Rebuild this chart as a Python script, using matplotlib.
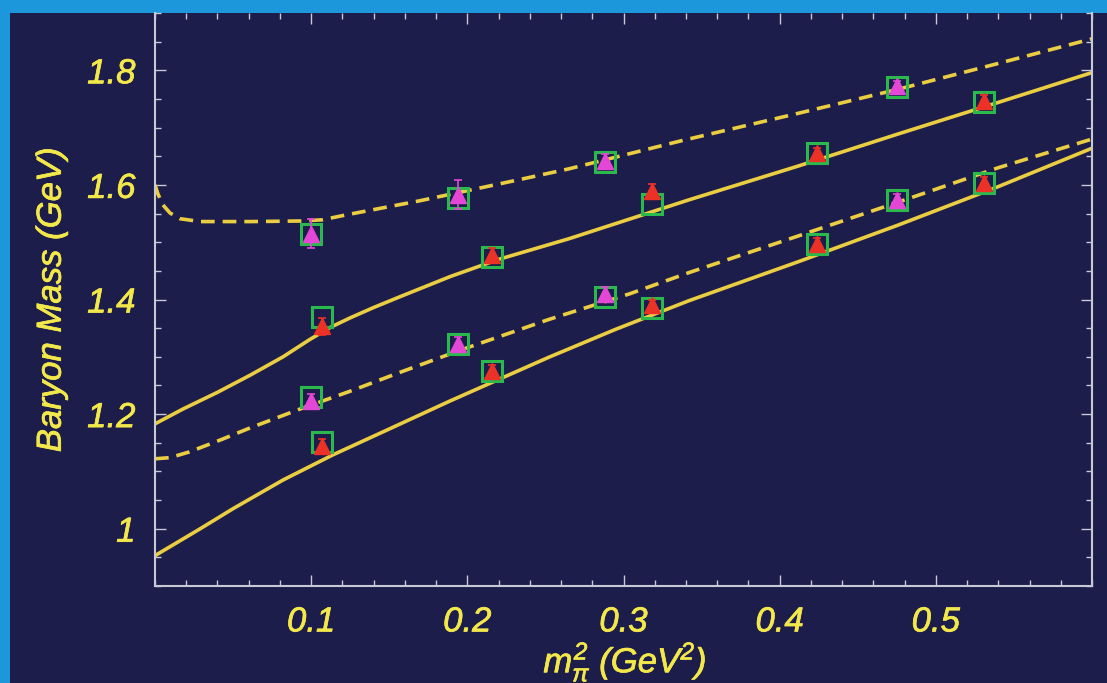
import matplotlib

matplotlib.use("Agg")
import matplotlib.pyplot as plt
import matplotlib.patheffects as pe
from matplotlib.patches import Rectangle
from matplotlib.ticker import MultipleLocator

# fitted curves (m_pi^2 in GeV^2, mass in GeV)
upper_dashed_x = [0.0, 0.0019, 0.0051, 0.0096, 0.016, 0.029, 0.061, 0.093, 0.107,
                  0.123, 0.169, 0.233, 0.265, 0.337, 0.412, 0.476, 0.540, 0.600]
upper_dashed_y = [1.600, 1.584, 1.565, 1.551, 1.541, 1.536, 1.536, 1.537, 1.539,
                  1.548, 1.572, 1.609, 1.628, 1.677, 1.725, 1.767, 1.812, 1.855]

upper_solid_x = [0.0, 0.018, 0.040, 0.061, 0.082, 0.099, 0.112, 0.125, 0.140,
                 0.157, 0.189, 0.220, 0.265, 0.342, 0.412, 0.476, 0.540, 0.600]
upper_solid_y = [1.183, 1.209, 1.238, 1.268, 1.300, 1.330, 1.351, 1.368, 1.386,
                 1.405, 1.440, 1.470, 1.506, 1.574, 1.633, 1.689, 1.744, 1.796]

lower_dashed_x = [0.0, 0.0096, 0.022, 0.042, 0.061, 0.093, 0.125, 0.157, 0.197,
                  0.252, 0.304, 0.342, 0.412, 0.476, 0.540, 0.600]
lower_dashed_y = [1.122, 1.124, 1.134, 1.155, 1.176, 1.209, 1.240, 1.273, 1.313,
                  1.365, 1.410, 1.447, 1.511, 1.570, 1.630, 1.680]

lower_solid_x = [0.0, 0.029, 0.050, 0.082, 0.114, 0.146, 0.189, 0.252, 0.295,
                 0.342, 0.412, 0.476, 0.540, 0.600]
lower_solid_y = [0.953, 1.000, 1.035, 1.085, 1.129, 1.169, 1.223, 1.299, 1.348,
                 1.398, 1.466, 1.530, 1.597, 1.664]

# lattice points, light set (magenta) and heavy set (red)
light_x = [0.100, 0.194, 0.288, 0.475]
light_upper_y = [1.515, 1.583, 1.642, 1.772]
light_upper_err = [0.025, 0.025, 0.012, 0.010]
light_lower_y = [1.223, 1.322, 1.410, 1.574]
light_lower_err = [0.012, 0.012, 0.012, 0.010]

heavy_x = [0.107, 0.216, 0.318, 0.424, 0.531]
heavy_upper_y = [1.353, 1.478, 1.590, 1.655, 1.747]
heavy_upper_err = [0.015, 0.012, 0.012, 0.010, 0.010]
heavy_lower_y = [1.144, 1.275, 1.390, 1.497, 1.603]
heavy_lower_err = [0.012, 0.010, 0.010, 0.010, 0.010]

# second analysis (open squares)
light_sq_upper_y = [1.515, 1.577, 1.640, 1.770]
light_sq_lower_y = [1.230, 1.322, 1.405, 1.574]
heavy_sq_upper_y = [1.370, 1.475, 1.567, 1.656, 1.744]
heavy_sq_lower_y = [1.151, 1.275, 1.386, 1.496, 1.603]

x_ticks = [0.1, 0.2, 0.3, 0.4, 0.5]
x_tick_labels = ["0.1", "0.2", "0.3", "0.4", "0.5"]
y_ticks = [1.0, 1.2, 1.4, 1.6, 1.8]
y_tick_labels = ["1", "1.2", "1.4", "1.6", "1.8"]

BLUE = "#1c97dc"
NAVY = "#1c1d4b"
CURVE = "#ebcd42"
TEXT = "#f3e84a"
FRAME = "#c9c9d6"
GREEN = "#2bb84c"
RED = "#ec3226"
MAGENTA = "#e447d6"

plt.rcParams["mathtext.fontset"] = "custom"
plt.rcParams["mathtext.rm"] = "Liberation Sans:italic"
plt.rcParams["mathtext.it"] = "Liberation Sans:italic"

# slightly heavier strokes for the yellow lettering
bold_text = [pe.withStroke(linewidth=0.5, foreground=TEXT)]

fig = plt.figure(figsize=(11.07, 6.83), dpi=100, facecolor=BLUE)
panel = Rectangle((10 / 1107, 0), 1, 1 - 13 / 683, transform=fig.transFigure,
                  facecolor=NAVY, edgecolor="none", zorder=-10)
fig.patches.append(panel)

ax = fig.add_axes([155 / 1107, 1 - 586 / 683, (1092 - 155) / 1107, (586 - 13) / 683])
ax.set_zorder(1)
ax.set_facecolor(NAVY)

ax.plot(upper_dashed_x, upper_dashed_y, color=CURVE, lw=2.6, dashes=(3.8, 2.2), zorder=2)
ax.plot(lower_dashed_x, lower_dashed_y, color=CURVE, lw=2.6, dashes=(3.8, 2.2), zorder=2)
ax.plot(upper_solid_x, upper_solid_y, color=CURVE, lw=2.6, zorder=2)
ax.plot(lower_solid_x, lower_solid_y, color=CURVE, lw=2.6, zorder=2)

for xs, ys in [(light_x, light_sq_upper_y), (light_x, light_sq_lower_y),
               (heavy_x, heavy_sq_upper_y), (heavy_x, heavy_sq_lower_y)]:
    ax.plot(xs, ys, ls="none", marker="s", ms=15, mfc="none", mec=GREEN, mew=2.2, zorder=3)

for xs, ys, err, col in [(light_x, light_upper_y, light_upper_err, MAGENTA),
                         (light_x, light_lower_y, light_lower_err, MAGENTA),
                         (heavy_x, heavy_upper_y, heavy_upper_err, RED),
                         (heavy_x, heavy_lower_y, heavy_lower_err, RED)]:
    ax.errorbar(xs, ys, yerr=err, fmt="^", ms=11, color=col, mec=col, ecolor=col,
                elinewidth=1.2, capsize=3, capthick=1.2, zorder=4)

ax.set_xlim(0, 0.6)
ax.set_ylim(0.9, 1.9)
ax.set_xticks(x_ticks)
ax.set_xticklabels(x_tick_labels)
ax.set_yticks(y_ticks)
ax.set_yticklabels(y_tick_labels)
ax.xaxis.set_minor_locator(MultipleLocator(0.02))
ax.yaxis.set_minor_locator(MultipleLocator(0.05))
ax.tick_params(which="both", direction="in", top=True, right=True, color=FRAME, width=1.0)
ax.tick_params(which="major", length=8, pad=14)
ax.tick_params(which="minor", length=4)
for label in ax.get_xticklabels() + ax.get_yticklabels():
    label.set_fontfamily("Liberation Sans")
    label.set_fontstyle("italic")
    label.set_fontsize(25)
    label.set_color(TEXT)
    label.set_path_effects(bold_text)
for spine in ax.spines.values():
    spine.set_color(FRAME)
    spine.set_linewidth(1.5)
ax.spines["top"].set_visible(False)

ax.set_ylabel("Baryon Mass (GeV)", fontfamily="Liberation Sans", fontstyle="italic",
              fontsize=25, color=TEXT, labelpad=14, path_effects=bold_text)
fig.text(625 / 1107, 1 - 662 / 683, r"$m_{\pi}^{2}\ (\mathrm{GeV}^{2})$", fontsize=25,
         color=TEXT, ha="center", va="center", path_effects=bold_text)

fig.savefig("out.png", dpi=100, facecolor=fig.get_facecolor())
